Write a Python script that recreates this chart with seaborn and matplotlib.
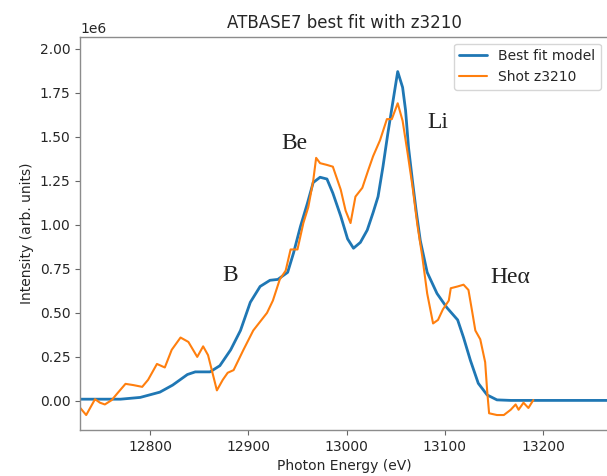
import matplotlib
matplotlib.use("Agg")
import matplotlib.pyplot as plt
import seaborn as sns
import numpy as np
import pandas as pd

# Best fit model spectrum (photon energy in eV, intensity in units of 1e6)
model_energy = [12729, 12770, 12790, 12810, 12823, 12838, 12846, 12861, 12871, 12882,
                12892, 12902, 12912, 12922, 12930, 12940, 12946, 12953, 12960, 12966,
                12973, 12980, 12986, 12994, 13001, 13007, 13014, 13021, 13027, 13032,
                13037, 13042, 13048, 13052, 13057, 13060, 13063, 13067, 13071, 13075,
                13082, 13092, 13102, 13113, 13119, 13126, 13134, 13143, 13153, 13167,
                13280]
model_intensity = [0.010, 0.010, 0.020, 0.050, 0.090, 0.150, 0.165, 0.165, 0.200, 0.290,
                   0.400, 0.560, 0.650, 0.685, 0.690, 0.730, 0.840, 0.990, 1.120, 1.240,
                   1.270, 1.260, 1.180, 1.050, 0.920, 0.867, 0.900, 0.970, 1.070, 1.160,
                   1.330, 1.520, 1.730, 1.870, 1.780, 1.650, 1.440, 1.250, 1.070, 0.910,
                   0.730, 0.610, 0.530, 0.460, 0.360, 0.230, 0.100, 0.034, 0.006, 0.003,
                   0.003]

# Measured spectrum, shot z3210
shot_energy = [12729, 12735, 12744, 12749, 12754, 12761, 12767, 12775, 12783, 12792,
               12798, 12807, 12815, 12822, 12831, 12839, 12848, 12854, 12859, 12868,
               12874, 12879, 12885, 12895, 12905, 12919, 12925, 12932, 12938, 12943,
               12950, 12956, 12961, 12966, 12969, 12973, 12980, 12986, 12994, 12999,
               13004, 13009, 13016, 13022, 13027, 13034, 13041, 13046, 13052, 13057,
               13062, 13067, 13072, 13077, 13082, 13088, 13093, 13098, 13104, 13106,
               13113, 13119, 13124, 13128, 13131, 13136, 13141, 13143, 13145, 13153,
               13160, 13167, 13172, 13175, 13180, 13185, 13190]
shot_intensity = [-0.040, -0.080, 0.010, -0.010, -0.020, 0.005, 0.045, 0.097, 0.090, 0.080,
                  0.120, 0.210, 0.190, 0.290, 0.360, 0.335, 0.250, 0.310, 0.260, 0.060,
                  0.120, 0.160, 0.175, 0.290, 0.400, 0.500, 0.570, 0.690, 0.740, 0.860,
                  0.860, 1.010, 1.100, 1.250, 1.380, 1.350, 1.340, 1.330, 1.200, 1.080,
                  1.010, 1.160, 1.210, 1.310, 1.390, 1.480, 1.600, 1.600, 1.690, 1.590,
                  1.410, 1.220, 1.000, 0.820, 0.610, 0.440, 0.460, 0.520, 0.570, 0.640,
                  0.650, 0.660, 0.630, 0.500, 0.400, 0.350, 0.220, 0.060, -0.070, -0.080,
                  -0.080, -0.050, -0.020, -0.050, -0.010, -0.040, 0.005]

# Emission line labels
line_labels = ["B", "Be", "Li", "Heα"]
line_label_energy = [12881.5, 12946.6, 13093.3, 13166.6]
line_label_intensity = [0.71, 1.464, 1.583, 0.698]

SCALE = 1e6

sns.set_style("white")
plt.rcParams["font.family"] = ["DejaVu Sans"]
palette = sns.color_palette("tab10")

model_df = pd.DataFrame({"energy": model_energy,
                         "intensity": np.array(model_intensity) * SCALE})
shot_df = pd.DataFrame({"energy": shot_energy,
                        "intensity": np.array(shot_intensity) * SCALE})

fig = plt.figure(figsize=(6.07, 4.76), dpi=100)
ax = fig.add_axes([80 / 607, 1 - 430 / 476, 528 / 607, (430 - 36.7) / 476])

sns.lineplot(data=model_df, x="energy", y="intensity", ax=ax, color=palette[0],
             linewidth=2.0, label="Best fit model", sort=False)
sns.lineplot(data=shot_df, x="energy", y="intensity", ax=ax, color=palette[1],
             linewidth=1.5, label="Shot z3210", sort=False)

for txt, e, v in zip(line_labels, line_label_energy, line_label_intensity):
    ax.text(e, v * SCALE, txt, ha="center", va="center", fontsize=17,
            family=["Liberation Serif", "DejaVu Serif"], color="#222222")

ax.set_xlim(12728.7, 13266)
ax.set_ylim(-0.165 * SCALE, 2.068 * SCALE)
ax.set_xticks([12800, 12900, 13000, 13100, 13200])
ax.set_yticks(np.arange(0, 2.01, 0.25) * SCALE)
ax.ticklabel_format(axis="y", style="sci", scilimits=(6, 6), useMathText=False)
ax.yaxis.get_major_formatter().set_useOffset(False)

ax.set_title("ATBASE7 best fit with z3210", fontsize=12, color="0.15")
ax.set_xlabel("Photon Energy (eV)", fontsize=10, color="0.15")
ax.set_ylabel("Intensity (arb. units)", fontsize=10, color="0.15")
ax.tick_params(axis="both", which="major", labelsize=10, length=3.5, width=0.8,
               color="0.4", labelcolor="0.15", bottom=True, left=True)
for side in ax.spines.values():
    side.set_color("0.55")
    side.set_linewidth(1.0)

leg = ax.legend(loc="upper right", fontsize=10, frameon=True)
leg.get_frame().set_edgecolor("0.8")

fig.savefig("out.png", dpi=100)
